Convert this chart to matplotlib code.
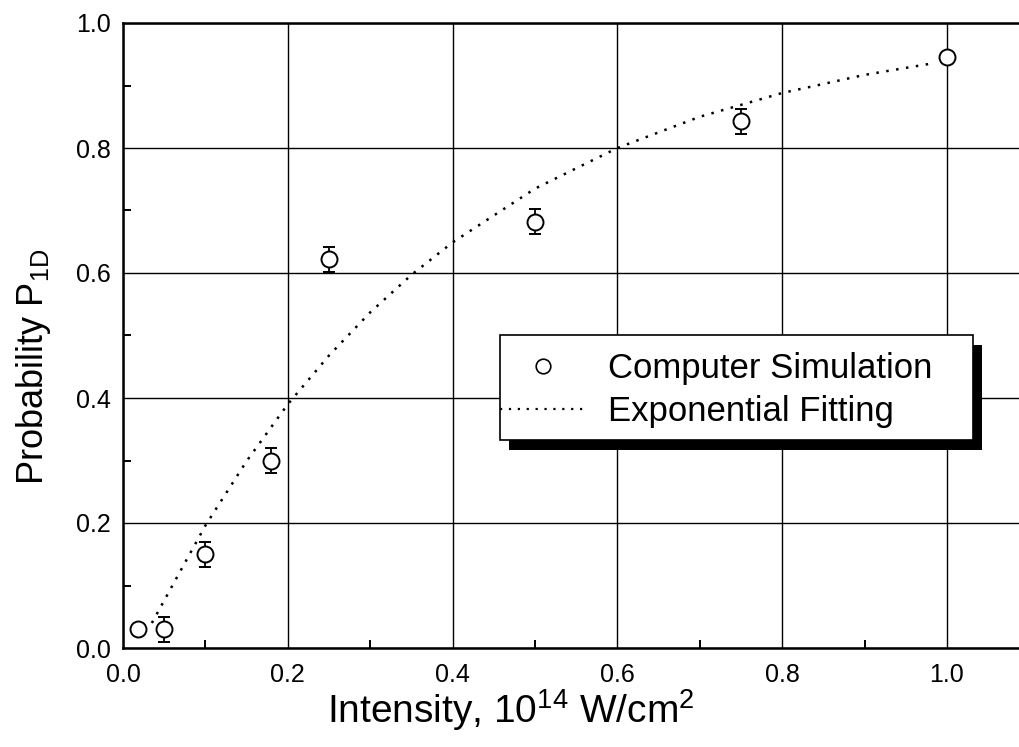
import numpy as np
import matplotlib
matplotlib.use("Agg")
import matplotlib.pyplot as plt
from matplotlib.patches import Rectangle
from matplotlib.lines import Line2D
from matplotlib.ticker import MultipleLocator

# ------------------------------------------------------------
# Data
# ------------------------------------------------------------
sim_x = [0.018, 0.05, 0.10, 0.18, 0.25, 0.50, 0.75, 1.00]
sim_y = [0.030, 0.030, 0.150, 0.300, 0.622, 0.682, 0.843, 0.945]
sim_err = [0.0, 0.02, 0.02, 0.02, 0.02, 0.02, 0.02, 0.0]

fit_x = [0.035, 0.10, 0.15, 0.20, 0.25, 0.30, 0.35, 0.40, 0.50,
         0.60, 0.70, 0.80, 0.90, 0.985]
fit_y = [0.040, 0.196, 0.299, 0.390, 0.468, 0.537, 0.597, 0.649, 0.735,
         0.800, 0.850, 0.888, 0.917, 0.936]

# ------------------------------------------------------------
# Style
# ------------------------------------------------------------
plt.rcParams["font.family"] = ["Liberation Sans", "DejaVu Sans"]
plt.rcParams["mathtext.fontset"] = "custom"
plt.rcParams["mathtext.rm"] = "Liberation Sans"
plt.rcParams["mathtext.it"] = "Liberation Sans:italic"

fig = plt.figure(figsize=(10.19, 7.47), dpi=100)
ax = fig.add_axes([123 / 1019, 99 / 747, 906.4 / 1019, 625 / 747])

ax.errorbar(sim_x, sim_y, yerr=sim_err, fmt="o", ms=11.5, mfc="white",
            mec="black", mew=1.4, ecolor="black", elinewidth=1.3,
            capsize=4, capthick=1.3, zorder=5)
ax.plot(fit_x, fit_y, color="black", linestyle=(0, (1, 3)), lw=1.8,
        zorder=4)

ax.set_xlim(0, 1.1)
ax.set_ylim(0, 1.0)
ax.xaxis.set_minor_locator(MultipleLocator(0.1))
ax.yaxis.set_minor_locator(MultipleLocator(0.1))
ax.set_xticks([0, 0.2, 0.4, 0.6, 0.8, 1.0])
ax.set_yticks([0, 0.2, 0.4, 0.6, 0.8, 1.0])
ax.grid(True, which="major", color="black", lw=1.0)

ax.tick_params(which="major", length=0, labelsize=18, pad=11)
ax.tick_params(axis="y", which="major", pad=9)
ax.tick_params(which="minor", direction="in", length=6, width=1.4,
               top=False, right=False)
for s in ax.spines.values():
    s.set_linewidth(1.8)

ax.set_xlabel("Intensity, 10$^{14}$ W/cm$^{2}$", fontsize=28)
ax.set_ylabel("Probability P$_{\\mathrm{1D}}$", fontsize=26)
ax.xaxis.set_label_coords(0.428, -0.062)
ax.yaxis.set_label_coords(-0.077, 0.45)

# ------------------------------------------------------------
# Legend: white box with a solid black drop shadow
# ------------------------------------------------------------
box_x0, box_x1 = 0.416, 0.938
box_y0, box_y1 = 0.333, 0.501
dx, dy = 9 / 906.4, 10 / 625
ax.add_patch(Rectangle((box_x0 + dx, box_y0 - dy), box_x1 - box_x0,
                       box_y1 - box_y0, transform=ax.transAxes,
                       facecolor="black", edgecolor="none", zorder=8,
                       clip_on=False))
ax.add_patch(Rectangle((box_x0, box_y0), box_x1 - box_x0, box_y1 - box_y0,
                       transform=ax.transAxes, facecolor="white",
                       edgecolor="black", lw=1.2, zorder=9, clip_on=False))

handles = [
    Line2D([], [], marker="o", ls="none", ms=10.5, mfc="white", mec="black",
           mew=1.2),
    Line2D([], [], color="black", linestyle=(0, (1, 3)), lw=1.6),
]
labels = ["Computer Simulation", "Exponential Fitting"]
leg = ax.legend(handles, labels, loc="center left",
                bbox_to_anchor=(box_x0, 0.413), fontsize=25, frameon=False,
                handlelength=2.5, handletextpad=0.6, borderpad=0,
                borderaxespad=0, labelspacing=0.3, numpoints=1)
leg.set_zorder(10)

fig.savefig("out.png", dpi=100)
